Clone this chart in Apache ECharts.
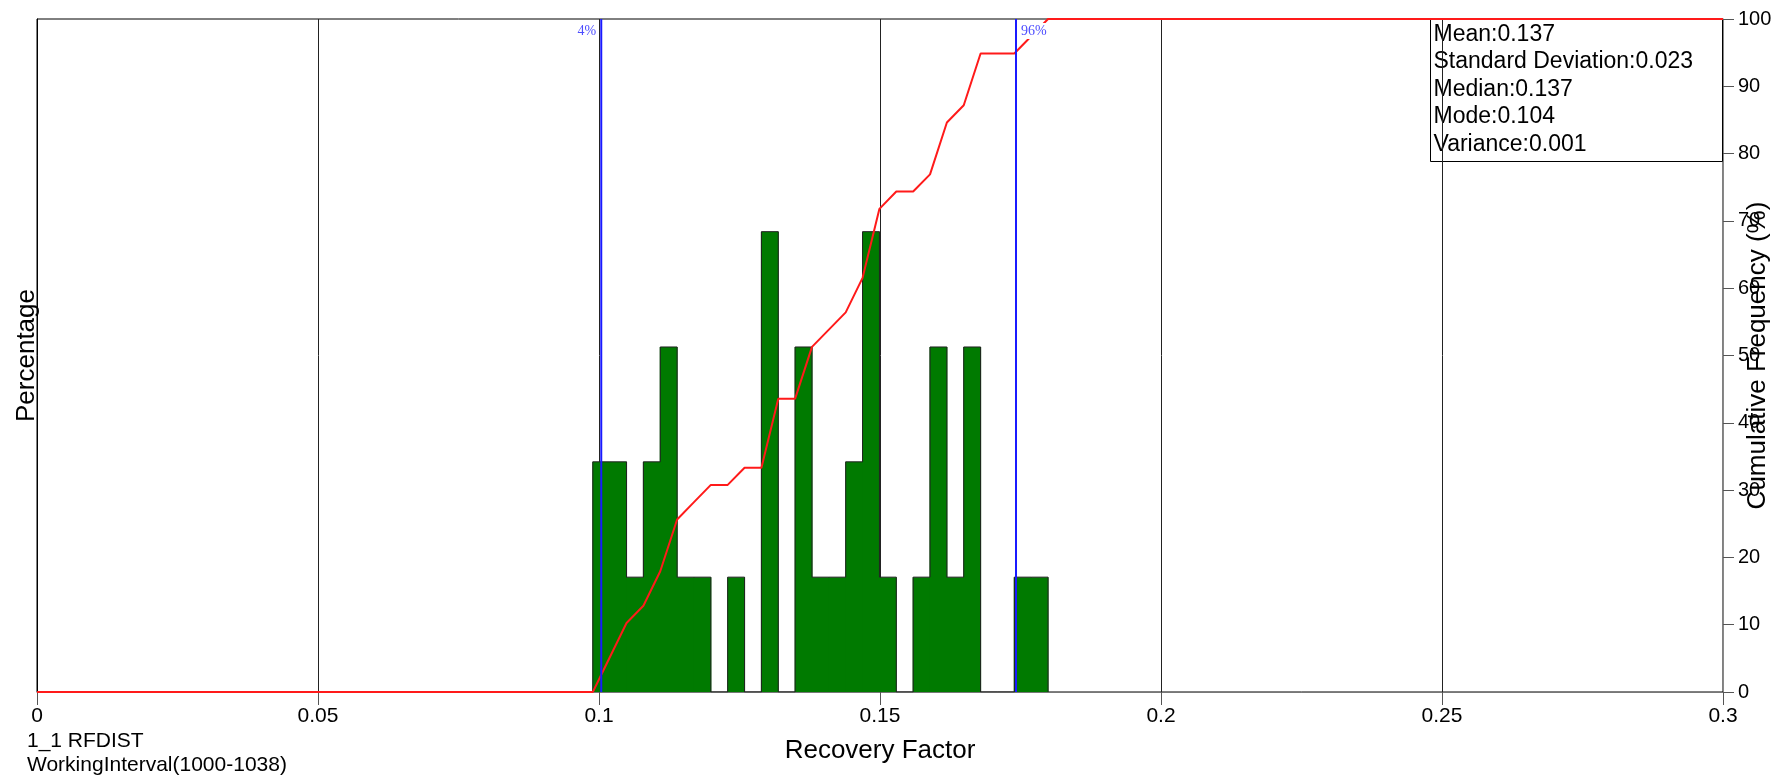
<!DOCTYPE html>
<html><head><meta charset="utf-8">
<script src="https://cdn.jsdelivr.net/npm/echarts@6/dist/echarts.min.js"></script>
<style>html,body{margin:0;padding:0;background:#fff}#c{width:1789px;height:778px}</style>
</head><body><div id="c"></div>
<script>
// ---- data ----
const binEdges = [0.0989,0.1019,0.1049,0.1079,0.1109,0.1139,0.1169,0.1199,0.1229,0.1259,0.1289,0.1319,0.1349,0.1379,0.1409,0.1439,0.1469,0.1499,0.1529,0.1559,0.1589,0.1619,0.1649,0.1679,0.1709,0.1739,0.1769,0.1799];
const binPercent = [5.13,5.13,2.56,5.13,7.69,2.56,2.56,0,2.56,0,10.26,0,7.69,2.56,2.56,5.13,10.26,2.56,0,2.56,7.69,2.56,7.69,0,0,2.56,2.56];
const cumPercent = [0,5.13,10.26,12.82,17.95,25.64,28.21,30.77,30.77,33.33,33.33,43.59,43.59,51.28,53.85,56.41,61.54,71.79,74.36,74.36,76.92,84.62,87.18,94.87,94.87,94.87,97.44,100];
const percentileValues = [0.1004, 0.1742];
const percentileLabels = ['4%', '96%'];
const statsNames = ['Mean','Standard Deviation','Median','Mode','Variance'];
const statsValues = ['0.137','0.023','0.137','0.104','0.001'];
const infoLines = ['1_1 RFDIST', 'WorkingInterval(1000-1038)'];
const xRange = [0, 0.3];
const cumRange = [0, 100];

// ---- build series data ----
const barData = binPercent.map((p, i) => [binEdges[i], binEdges[i+1], p]);
const outline = [[binEdges[0], 0]];
binPercent.forEach((p, i) => { outline.push([binEdges[i], p]); outline.push([binEdges[i+1], p]); });
outline.push([binEdges[binEdges.length-1], 0]);
const cumData = [[xRange[0], 0]].concat(binEdges.map((e, i) => [e, cumPercent[i]])).concat([[xRange[1], 100]]);
const pctData = percentileValues.map((v, i) => [v, percentileLabels[i], i === 0 ? 'left' : 'right']);

const FONT = '"Liberation Sans", Arial, sans-serif';
const chart = echarts.init(document.getElementById('c'), null, {renderer: 'canvas'});
chart.setOption({
  animation: false,
  backgroundColor: '#fff',
  grid: {left: 37, right: 66, top: 19, bottom: 86, show: true, borderColor: '#000', borderWidth: 1,
    containLabel: false, outerBoundsMode: 'none'},
  xAxis: {
    type: 'value', min: xRange[0], max: xRange[1], interval: 0.05,
    name: 'Recovery Factor', nameLocation: 'middle', nameGap: 46, nameMoveOverlap: false,
    nameTextStyle: {fontFamily: FONT, fontSize: 26, color: '#000'},
    axisLine: {lineStyle: {color: '#777', width: 1}},
    axisTick: {show: true, length: 13, lineStyle: {color: '#555'}},
    axisLabel: {fontFamily: FONT, fontSize: 21, color: '#000', margin: 14},
    splitLine: {show: true, lineStyle: {color: '#222', width: 1}}
  },
  yAxis: [{
    type: 'value', min: 0, max: 15, position: 'left',
    name: 'Percentage', nameLocation: 'middle', nameGap: -3, nameRotate: 90, nameMoveOverlap: false,
    nameTextStyle: {fontFamily: FONT, fontSize: 26, color: '#000'},
    axisLine: {show: true, lineStyle: {color: '#000'}},
    axisTick: {show: false}, axisLabel: {show: false}, splitLine: {show: false}
  }, {
    type: 'value', min: cumRange[0], max: cumRange[1], interval: 10, position: 'right',
    name: 'Cumulative Frequency (%)', nameLocation: 'middle', nameGap: 22, nameRotate: 90, nameMoveOverlap: false,
    nameTextStyle: {fontFamily: FONT, fontSize: 26, color: '#000'},
    axisLine: {show: true, lineStyle: {color: '#888', width: 1}},
    axisTick: {show: true, length: 11, lineStyle: {color: '#555'}},
    axisLabel: {fontFamily: FONT, fontSize: 20, color: '#000', margin: 15},
    splitLine: {show: false}
  }],
  series: [{
    type: 'custom', xAxisIndex: 0, yAxisIndex: 0, z: 2,
    data: barData,
    encode: {x: [0, 1], y: 2},
    renderItem: function (params, api) {
      const p1 = api.coord([api.value(0), api.value(2)]);
      const p2 = api.coord([api.value(1), 0]);
      return {type: 'rect', shape: {x: p1[0] - 0.5, y: p1[1], width: p2[0] - p1[0] + 1, height: p2[1] - p1[1]},
        style: {fill: '#007a00', stroke: 'none', lineWidth: 0}};
    }
  }, {
    type: 'line', xAxisIndex: 0, yAxisIndex: 0, z: 3, data: outline,
    symbol: 'none', lineStyle: {color: '#222', width: 1}, silent: true
  }, {
    type: 'line', xAxisIndex: 0, yAxisIndex: 1, z: 4, data: cumData,
    symbol: 'none', lineStyle: {color: '#ff1a1a', width: 2}, silent: true, clip: false
  }, {
    type: 'custom', xAxisIndex: 0, yAxisIndex: 0, z: 5,
    data: pctData,
    encode: {x: 0},
    renderItem: function (params, api) {
      const v = api.value(0);
      const top = api.coord([v, 15]);
      const bot = api.coord([v, 0]);
      const lbl = pctData[params.dataIndex][1];
      const side = pctData[params.dataIndex][2];
      return {type: 'group', children: [
        {type: 'line', shape: {x1: top[0], y1: top[1], x2: bot[0], y2: bot[1]},
          style: {stroke: '#1a1aff', lineWidth: 2}},
        {type: 'text', style: {text: lbl, x: side === 'left' ? top[0] - 4 : top[0] + 4, y: top[1] + 12,
          align: side === 'left' ? 'right' : 'left', verticalAlign: 'middle',
          font: '14px "Liberation Serif", "Times New Roman", serif', fill: '#4d4dff',
          backgroundColor: '#fff', padding: [1, 1, 1, 1]}}
      ]};
    }
  }],
  graphic: [{
    type: 'group', left: 1430, top: 19, z: 100, children: [
      {type: 'rect', shape: {x: 0, y: 0, width: 292, height: 142}, style: {fill: '#fff', stroke: '#000', lineWidth: 1}},
      {type: 'text', x: 3, y: 1, style: {text: statsNames.map((n, i) => n + ':' + statsValues[i]).join('\n'),
        font: '23px ' + FONT, fill: '#000', lineHeight: 27.5, verticalAlign: 'top'}}
    ]
  }, {
    type: 'text', left: 27, top: 729, z: 100,
    style: {text: infoLines.join('\n'), font: '21px ' + FONT, fill: '#000', lineHeight: 24.3}
  }]
});
</script>
</body></html>
